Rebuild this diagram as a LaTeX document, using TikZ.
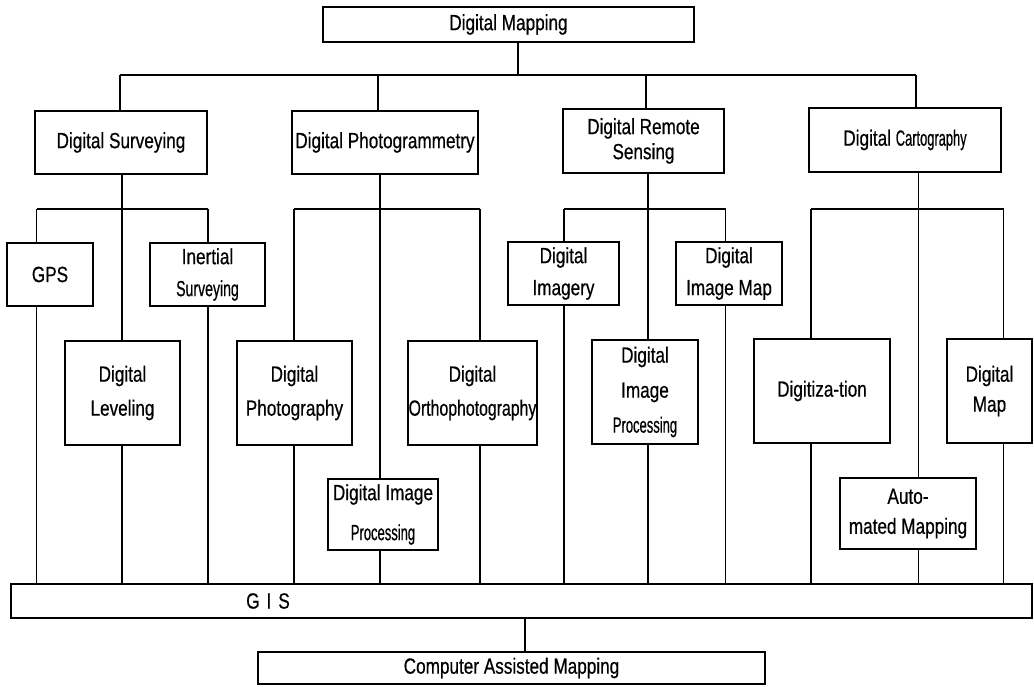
\documentclass[tikz,border=0pt]{standalone}
\usepackage{fontspec}
\setmainfont{Liberation Sans}[FakeStretch=0.78,FakeBold=0.5]
\newfontfamily\nrwcart{Liberation Sans}[FakeStretch=0.585,FakeBold=0.5]
\newfontfamily\nrwsurv{Liberation Sans}[FakeStretch=0.64,FakeBold=0.5]
\newfontfamily\nrwproc{Liberation Sans}[FakeStretch=0.59,FakeBold=0.5]
\newfontfamily\nrworth{Liberation Sans}[FakeStretch=0.72,FakeBold=0.5]
\tikzset{
  bx/.style={draw, line width=1.1pt, inner sep=0pt, align=center, font=\fontsize{22pt}{32pt}\selectfont},
  lead/.style={font=\fontsize{22pt}{#1pt}\selectfont},
  ln/.style={line width=1.1pt}
}
\begin{document}
\begin{tikzpicture}[x=1pt,y=-1pt]
\useasboundingbox (0,0) rectangle (1034,687);
\fill[white] (0,0) rectangle (1034,687);
\begin{scope}
\clip (0,0) rectangle (1034,687);
% level 0
\node[bx, minimum width=371, minimum height=35] (dm) at (508.5,24.5) {Digital Mapping};
% level 1
\node[bx, minimum width=172, minimum height=63] (ds) at (121,142.5) {Digital Surveying};
\node[bx, minimum width=186, minimum height=63] (dp) at (385,142.5) {Digital Photogrammetry};
\node[bx, lead=25, minimum width=161, minimum height=64] (drs) at (643.5,141) {Digital Remote\\Sensing};
\node[bx, minimum width=192, minimum height=64] (dc) at (905,140) {Digital {\nrwcart Cartography}};
% level 2 - surveying
\node[bx, minimum width=86, minimum height=63] (gps) at (50,274.5) {GPS};
\node[bx, minimum width=115, minimum height=63] (ins) at (207.5,274.5) {Inertial\\{\nrwsurv Surveying}};
\node[bx, lead=34, minimum width=115, minimum height=104] (dl) at (122.5,393) {Digital\\Leveling};
% photogrammetry
\node[bx, lead=34, minimum width=115, minimum height=104] (dph) at (294.5,393) {Digital\\Photography};
\node[bx, lead=34, minimum width=129, minimum height=104] (dor) at (472.5,393) {Digital\\{\nrworth Orthophotography}};
\node[bx, lead=40, minimum width=110, minimum height=71] (dipa) at (383,514.5) {Digital Image\\{\nrwproc Processing}};
% remote sensing
\node[bx, minimum width=111, minimum height=63] (dim) at (563.5,273.5) {Digital\\Imagery};
\node[bx, minimum width=106, minimum height=63] (dimap) at (729,273.5) {Digital\\Image Map};
\node[bx, lead=35, minimum width=106, minimum height=104] (dipb) at (645,392) {Digital\\Image\\{\nrwproc Processing}};
% cartography
\node[bx, minimum width=136, minimum height=104] (dgt) at (822,391) {Digitiza-tion};
\node[bx, lead=30, minimum width=85, minimum height=104] (dmap) at (989.5,391) {Digital\\Map};
\node[bx, lead=30, minimum width=136, minimum height=71] (amap) at (908,513.5) {Auto-\\mated Mapping};
% GIS and CAM
\node[bx, minimum width=1021, minimum height=34] (gis) at (521.5,601) {};
\node[font=\fontsize{22pt}{24pt}\selectfont, inner sep=0pt] (gistext) at (268,601) {G\hspace{7pt}I\hspace{7pt}S};
\node[bx, minimum width=507, minimum height=32] (cam) at (511.5,668) {Computer Assisted Mapping};

% junction coordinates
\coordinate (j0) at (518,75);
\coordinate (h1) at (120,75);
\coordinate (h2) at (378,75);
\coordinate (h3) at (646,75);
\coordinate (h4) at (916,75);
\coordinate (a1) at (36.5,209);
\coordinate (a2) at (122,209);
\coordinate (a3) at (208,209);
\coordinate (b1) at (294,209);
\coordinate (b2) at (380,209);
\coordinate (b3) at (480,209);
\coordinate (c1) at (564,209);
\coordinate (c2) at (648,209);
\coordinate (c3) at (725.5,209);
\coordinate (d1) at (811,209);
\coordinate (d2) at (918.5,209);
\coordinate (d3) at (1003.5,209);
\coordinate (k) at (525,618);

% level 0 -> 1
\draw[ln] (dm.south -| j0) -- (j0);
\draw[ln] (h1) -- (h4);
\draw[ln] (h1) -- (h1 |- ds.north);
\draw[ln] (h2) -- (h2 |- dp.north);
\draw[ln] (h3) -- (h3 |- drs.north);
\draw[ln] (h4) -- (h4 |- dc.north);
% level 1 bars
\draw[ln] (ds.south -| a2) -- (a2);
\draw[ln] (a1) -- (a3);
\draw[ln] (dp.south -| b2) -- (b2);
\draw[ln] (b1) -- (b3);
\draw[ln] (drs.south -| c2) -- (c2);
\draw[ln] (c1) -- (c3);
\draw[ln] (dc.south -| d2) -- (d2);
\draw[ln] (d1) -- (d3);
% drops into level 2
\draw[ln] (a1) -- (a1 |- gps.north);
\draw[ln] (a2) -- (a2 |- dl.north);
\draw[ln] (a3) -- (a3 |- ins.north);
\draw[ln] (b1) -- (b1 |- dph.north);
\draw[ln] (b2) -- (b2 |- dipa.north);
\draw[ln] (b3) -- (b3 |- dor.north);
\draw[ln] (c1) -- (c1 |- dim.north);
\draw[ln] (c2) -- (c2 |- dipb.north);
\draw[ln] (c3) -- (c3 |- dimap.north);
\draw[ln] (d1) -- (d1 |- dgt.north);
\draw[ln] (d2) -- (d2 |- amap.north);
\draw[ln] (d3) -- (d3 |- dmap.north);
% level 2 -> GIS
\draw[ln] (gps.south -| a1) -- (a1 |- gis.north);
\draw[ln] (dl.south -| a2) -- (a2 |- gis.north);
\draw[ln] (ins.south -| a3) -- (a3 |- gis.north);
\draw[ln] (dph.south -| b1) -- (b1 |- gis.north);
\draw[ln] (dipa.south -| b2) -- (b2 |- gis.north);
\draw[ln] (dor.south -| b3) -- (b3 |- gis.north);
\draw[ln] (dim.south -| c1) -- (c1 |- gis.north);
\draw[ln] (dipb.south -| c2) -- (c2 |- gis.north);
\draw[ln] (dimap.south -| c3) -- (c3 |- gis.north);
\draw[ln] (dgt.south -| d1) -- (d1 |- gis.north);
\draw[ln] (amap.south -| d2) -- (d2 |- gis.north);
\draw[ln] (dmap.south -| d3) -- (d3 |- gis.north);
% GIS -> CAM
\draw[ln] (k) -- (k |- cam.north);
\end{scope}
\end{tikzpicture}
\end{document}
